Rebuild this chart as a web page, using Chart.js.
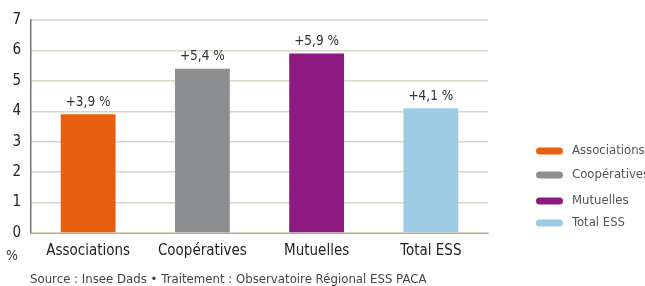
<!DOCTYPE html>
<html><head><meta charset="utf-8">
<script src="https://cdn.jsdelivr.net/npm/chart.js@4"></script>
<style>html,body{margin:0;padding:0;background:#fff}#w{width:645px;height:286px;position:relative}</style>
</head><body><div id="w"><canvas id="c" width="645" height="286"></canvas></div>
<script>
const categories = ["Associations", "Coopératives", "Mutuelles", "Total ESS"];
const values = [3.9, 5.4, 5.9, 4.1];
const valueLabels = ["+3,9 %", "+5,4 %", "+5,9 %", "+4,1 %"];
const colors = ["#e8600f", "#8c8e90", "#8c1a80", "#9dcbe4"];
const yTicks = [0, 1, 2, 3, 4, 5, 6, 7];
const unitLabel = "%";
const sourceText = "Source : Insee Dads \u2022 Traitement : Observatoire Régional ESS PACA";
const FONT = "'DejaVu Sans Condensed', 'DejaVu Sans', sans-serif";

const extras = {
  id: 'extras',
  afterDatasetsDraw(chart) {
    const ctx = chart.ctx;
    const meta = chart.getDatasetMeta(0);
    ctx.save();
    ctx.font = "13.5px " + FONT;
    ctx.fillStyle = "#333";
    ctx.textAlign = "center";
    ctx.textBaseline = "bottom";
    meta.data.forEach((bar, i) => {
      ctx.fillText(valueLabels[i], bar.x, bar.y - 5);
    });
    // unit label
    ctx.font = "14px " + FONT;
    ctx.textAlign = "center";
    ctx.textBaseline = "middle";
    ctx.fillText(unitLabel, 12, 256);
    // source
    ctx.font = "11.75px 'DejaVu Sans', sans-serif";
    ctx.fillStyle = "#444";
    ctx.textAlign = "left";
    ctx.fillText(sourceText, 30, 280);
    // legend
    const ly = [151, 175, 201, 223];
    categories.forEach((c, i) => {
      ctx.fillStyle = colors[i];
      const x = 536, y = ly[i] - 3.5, w = 27, h = 7;
      ctx.beginPath();
      ctx.moveTo(x + 3.5, y);
      ctx.lineTo(x + w - 3.5, y);
      ctx.arc(x + w - 3.5, y + 3.5, 3.5, -Math.PI/2, Math.PI/2);
      ctx.lineTo(x + 3.5, y + h);
      ctx.arc(x + 3.5, y + 3.5, 3.5, Math.PI/2, 3*Math.PI/2);
      ctx.fill();
      ctx.fillStyle = "#555";
      ctx.font = "13px " + FONT;
      ctx.textBaseline = "middle";
      ctx.fillText(c, 572, ly[i]);
    });
    ctx.restore();
  }
};

new Chart(document.getElementById('c'), {
  type: 'bar',
  data: {
    labels: categories,
    datasets: [{ data: values, backgroundColor: colors, barPercentage: 0.48, categoryPercentage: 1 }]
  },
  options: {
    responsive: false,
    animation: false,
    layout: { padding: { top: 20, right: 157, left: 0, bottom: 0 } },
    plugins: { legend: { display: false }, tooltip: { enabled: false } },
    scales: {
      x: {
        grid: { display: false, drawTicks: false },
        border: { color: "#a9a9a9", width: 1 },
        ticks: { font: { family: FONT, size: 15 }, color: "#222", padding: 9 },
        afterFit(s) { s.height = 53; }
      },
      y: {
        min: 0, max: 7,
        afterBuildTicks(s) { s.ticks = yTicks.map(v => ({ value: v })); },
        grid: { color: "#dcd4c4", lineWidth: 1.5, drawTicks: false },
        border: { color: "#777", width: 1.5 },
        ticks: { font: { family: FONT, size: 15 }, color: "#222", padding: 10 },
        afterFit(s) { s.width = 31; }
      }
    }
  },
  plugins: [extras]
});
</script>
</body></html>
